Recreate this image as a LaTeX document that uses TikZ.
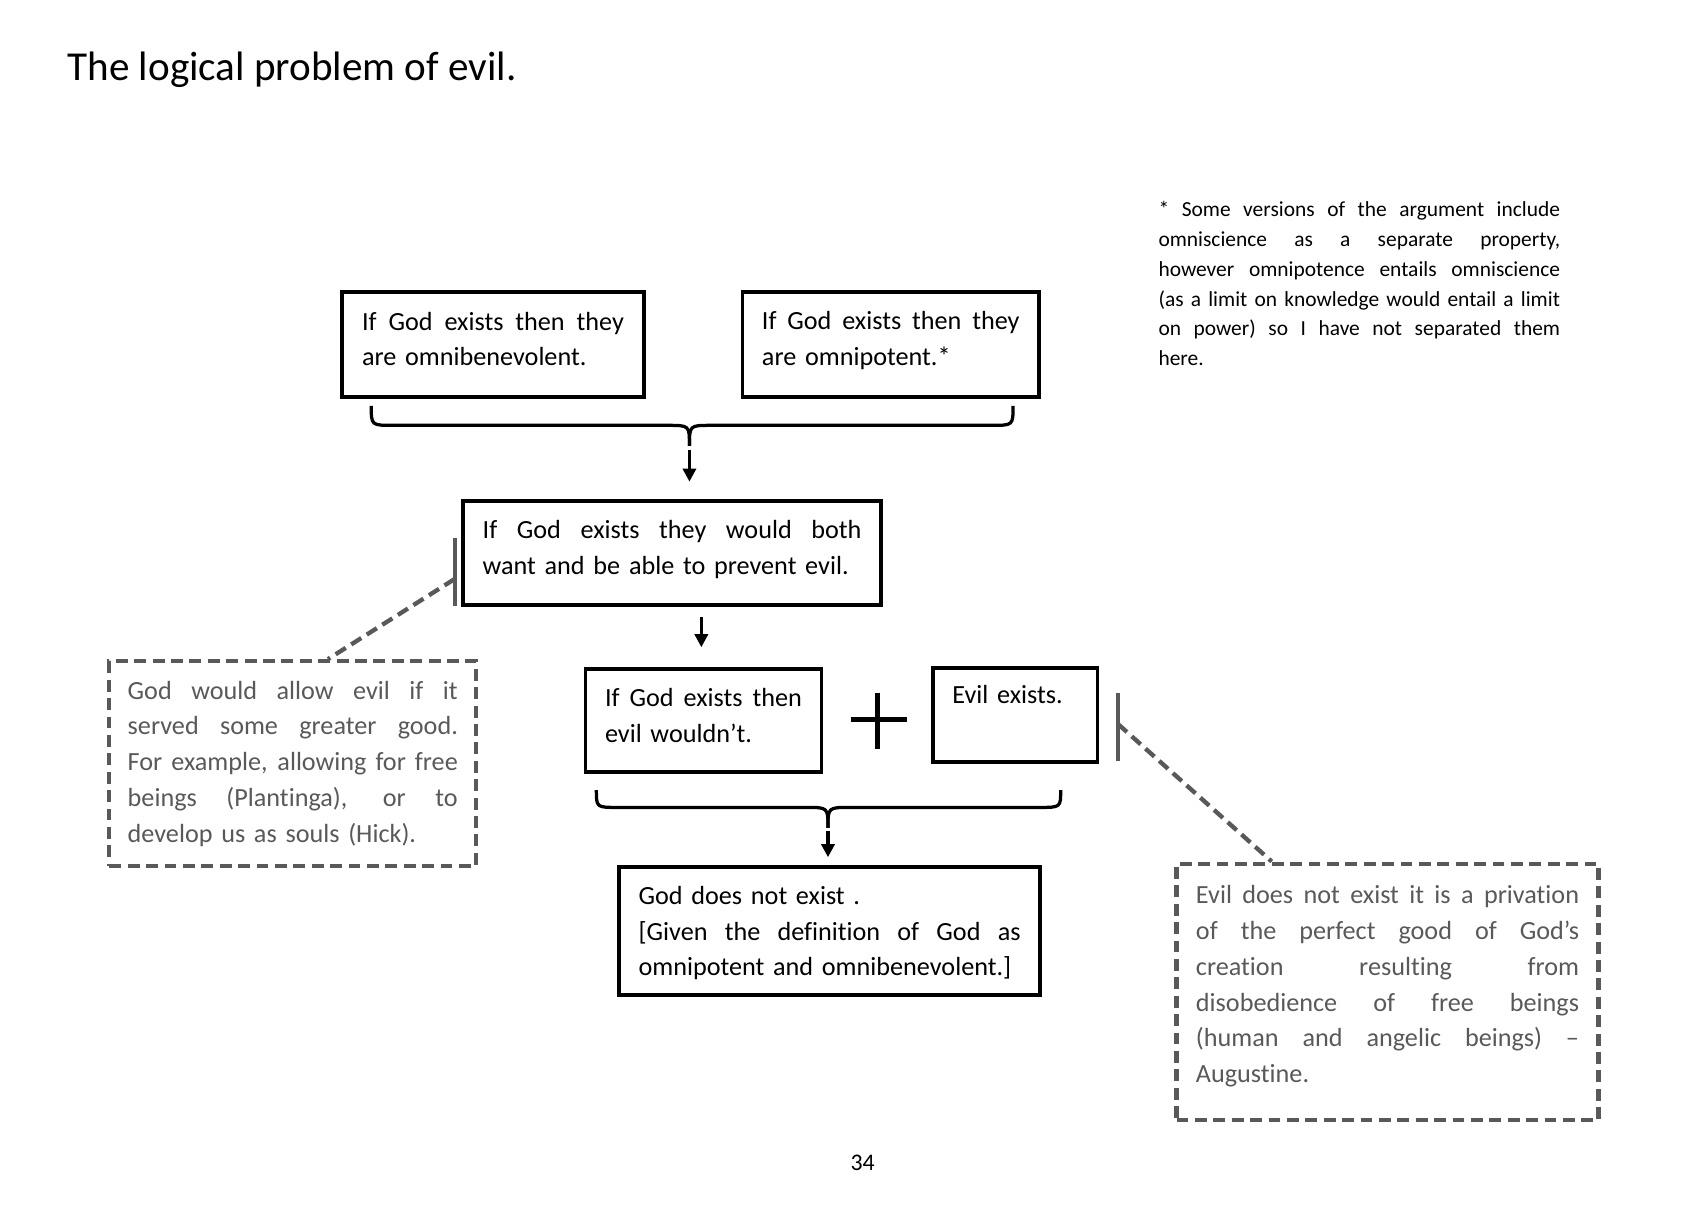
\documentclass[tikz,border=0pt]{standalone}
\usepackage{fontspec}
\setmainfont{Carlito}[Ligatures={TeX,NoCommon}]
\usepackage{xcolor}
\usetikzlibrary{arrows.meta}
\definecolor{notegray}{HTML}{595959}
\newcommand{\jline}[1]{\makebox[\hsize][s]{\spaceskip=\fontdimen2\font plus 1fil\relax #1}}
\newcommand{\lift}[1]{\rule[-#1]{0pt}{#1}}

\begin{document}
\begin{tikzpicture}[x=0.5pt,y=-0.5pt,
    claim/.style={draw,line width=1.8pt,inner sep=0pt,align=left,font=\fontsize{12.1pt}{16.5pt}\selectfont},
    reply/.style={draw=notegray,text=notegray,line width=2pt,dash pattern=on 5.5pt off 3pt,inner sep=0pt,align=left,font=\fontsize{12.1pt}{16.5pt}\selectfont},
    brace/.style={line width=1.5pt},
    arr/.style={-{Triangle[length=6pt,width=6pt]},line width=1.5pt},
    lead/.style={notegray,line width=2pt,dash pattern=on 5.5pt off 3pt},
    bar/.style={notegray,line width=1.8pt}]
    \useasboundingbox (0,0) rectangle (1567,1113);
    % Title and note
    \node[anchor=base west,inner sep=0pt,font=\fontsize{19pt}{23pt}\selectfont] (title) at (62,74) {The logical problem of evil.};
    \node[anchor=base west,inner sep=0pt,text width=185.5pt,align=left,font=\fontsize{9.9pt}{13.8pt}\selectfont] (note) at (1070,200)
        {\jline{* Some versions of the argument include}\\\jline{omniscience as a separate property,}\\\jline{however omnipotence entails omniscience}\\\jline{(as a limit on knowledge would entail a limit}\\\jline{on power) so I have not separated them}\\here.};
    % Premises
    \node[claim,minimum width=139.5pt,minimum height=48.5pt,text width=121pt] (benev) at (455.5,318.5) {\jline{If God exists then they}\\are omnibenevolent.\lift{5.5pt}};
    \node[claim,minimum width=137pt,minimum height=48.5pt,text width=119pt] (omnip) at (823,318.5) {\jline{If God exists then they}\\are omnipotent.*\lift{5.8pt}};
    \draw[brace] (343,375) .. controls (343,393) .. (363,393) -- (617,393) .. controls (637,393) .. (637,412);
    \draw[brace] (936,375) .. controls (936,393) .. (916,393) -- (657,393) .. controls (637,393) .. (637,412);
    \coordinate (a1) at (637,416);
    \coordinate (a1end) at (637,445);
    \draw[arr] (a1) -- (a1end);
    \node[claim,minimum width=193pt,minimum height=48pt,text width=175pt] (prevent) at (621,511) {\jline{If God exists they would both}\\want and be able to prevent evil.\lift{5.3pt}};
    \coordinate (a2) at (648,570);
    \coordinate (a2end) at (648,598);
    \draw[arr] (a2) -- (a2end);
    \node[claim,minimum width=109pt,minimum height=47.5pt,text width=91pt] (wouldnt) at (650,665.5) {\jline{If God exists then}\\evil wouldn't.\lift{4.5pt}};
    \draw[line width=2.2pt] (786,665) -- (838,665) (811,640) -- (811,692); % plus
    \node[claim,minimum width=76pt,minimum height=43.5pt,text width=58pt] (evil) at (938,660.5) {Evil exists.\lift{18.5pt}};
    \draw[brace] (551,730) .. controls (551,746) .. (571,746) -- (745,746) .. controls (765,746) .. (765,765);
    \draw[brace] (980,730) .. controls (980,746) .. (960,746) -- (785,746) .. controls (765,746) .. (765,765);
    \coordinate (a3) at (765,768);
    \coordinate (a3end) at (765,792);
    \draw[arr] (a3) -- (a3end);
    % Conclusion
    \node[claim,minimum width=194.5pt,minimum height=59pt,text width=176.5pt] (nogod) at (766.5,860) {God does not exist .\rule{0pt}{10.5pt}\\\jline{[Given the definition of God as}\\\mbox{omnipotent and omnibenevolent.]}};
    % Replies
    \node[reply,minimum width=169.5pt,minimum height=94.5pt,text width=152.5pt] (greater) at (270.5,705.5)
        {\jline{God would allow evil if it}\\\jline{served some greater good.}\\\jline{For example, allowing for free}\\\jline{beings (Plantinga), or to}\\develop us as souls (Hick).};
    \draw[bar] (420,497) -- (420,560);
    \coordinate (gtag) at (420,535);
    \draw[lead] (gtag) -- ([xshift=16.25pt]greater.north);
    \node[reply,minimum width=195pt,minimum height=118.5pt,text width=177pt] (privation) at (1282,916.5)
        {\jline{Evil does not exist it is a privation}\\\jline{of the perfect good of God's}\\\jline{creation resulting from}\\\jline{disobedience of free beings}\\\jline{(human and angelic beings) --}\\Augustine.\lift{7.3pt}};
    \draw[bar] (1033,640) -- (1033,703);
    \coordinate (htag) at (1033,669);
    \draw[lead] (htag) -- ([xshift=-53.5pt]privation.north);
    % Page number
    \node[anchor=base,inner sep=0pt,font=\fontsize{11pt}{13pt}\selectfont] (page) at (797,1081) {34};
\end{tikzpicture}
\end{document}
